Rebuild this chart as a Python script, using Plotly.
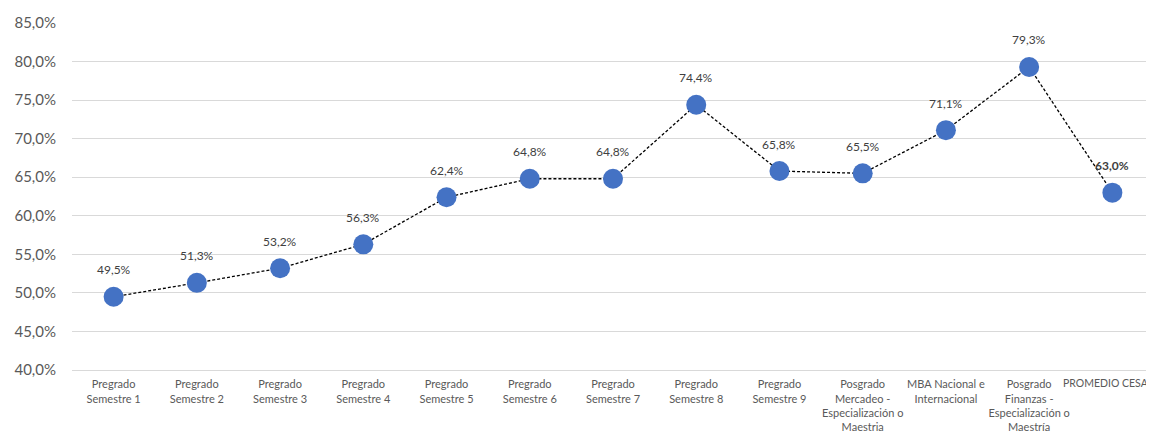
import plotly.graph_objects as go

categories = [
    "Pregrado<br>Semestre 1", "Pregrado<br>Semestre 2", "Pregrado<br>Semestre 3",
    "Pregrado<br>Semestre 4", "Pregrado<br>Semestre 5", "Pregrado<br>Semestre 6",
    "Pregrado<br>Semestre 7", "Pregrado<br>Semestre 8", "Pregrado<br>Semestre 9",
    "Posgrado<br>Mercadeo -<br>Especialización o<br>Maestria",
    "MBA Nacional e<br>Internacional",
    "Posgrado<br>Finanzas -<br>Especialización o<br>Maestría",
    "PROMEDIO CESA",
]
values = [49.5, 51.3, 53.2, 56.3, 62.4, 64.8, 64.8, 74.4, 65.8, 65.5, 71.1, 79.3, 63.0]
y_ticks = [40, 45, 50, 55, 60, 65, 70, 75, 80, 85]
y_tick_labels = ["40,0%", "45,0%", "50,0%", "55,0%", "60,0%", "65,0%", "70,0%", "75,0%", "80,0%", "85,0%"]

font = "Lato, Carlito, Calibri, sans-serif"

# last tick label drawn as annotation so it stays inside the visible page
x_tick_text = categories[:-1] + [""]

fig = go.Figure()
fig.add_trace(go.Scatter(
    x=categories, y=values, mode="lines+markers",
    line=dict(color="black", width=1.3, dash="3px,2px"),
    marker=dict(size=20, color="#4472C4"),
    hoverinfo="skip",
))

for i, (c, v) in enumerate(zip(categories, values)):
    txt = f"{v:.1f}".replace(".", ",") + "%"
    if i == len(values) - 1:
        txt = "<b>" + txt + "</b>"
    fig.add_annotation(
        x=c, y=v, text=txt,
        showarrow=False, yshift=27, font=dict(family=font, size=12, color="#404040"),
        yanchor="middle",
    )

fig.add_annotation(
    x=categories[-1], y=0, yref="paper", text=categories[-1],
    showarrow=False, xanchor="center", yanchor="top", xshift=-6, yshift=-5,
    font=dict(family=font, size=10.5, color="#595959"),
)

fig.update_layout(
    width=1154, height=432,
    margin=dict(l=64, r=8, t=15, b=70),
    paper_bgcolor="white", plot_bgcolor="white",
    showlegend=False,
    font=dict(family=font, color="#595959"),
)
fig.update_yaxes(
    range=[40, 85], tickvals=y_ticks, ticktext=y_tick_labels,
    showgrid=True, gridcolor="#D9D9D9", gridwidth=1, zeroline=False,
    tickfont=dict(size=15, color="#595959"), ticks="", ticklen=0,
    automargin=False, ticklabelstandoff=15,
)
fig.update_xaxes(
    range=[-0.5, len(categories) - 0.5],
    tickvals=categories, ticktext=x_tick_text,
    showgrid=False, showline=True, linecolor="#D9D9D9", linewidth=1,
    tickfont=dict(size=11, color="#595959"), ticks="", tickangle=0,
    automargin=False, ticklabelstandoff=4,
)

fig.write_html("out.html")
